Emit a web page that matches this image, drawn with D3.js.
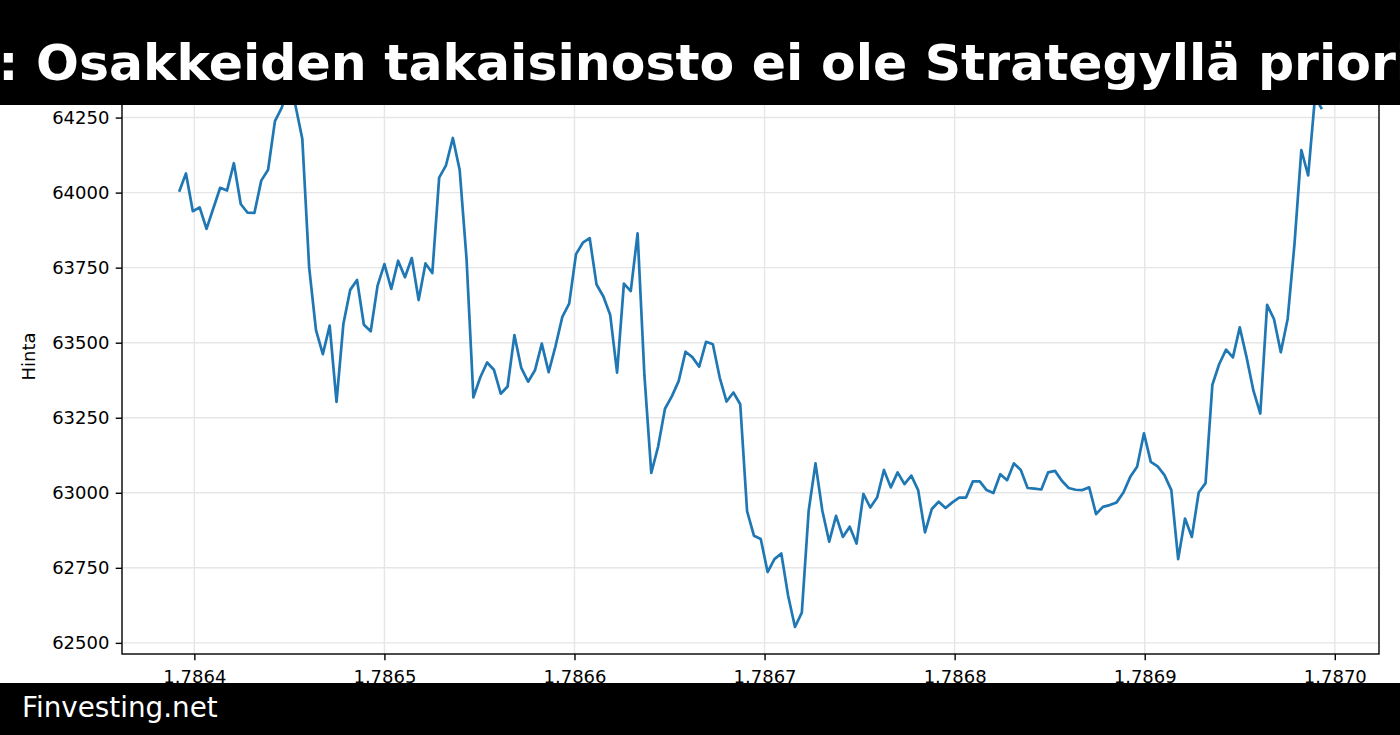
<!DOCTYPE html>
<html>
<head>
<meta charset="utf-8">
<script src="https://cdn.jsdelivr.net/npm/d3@7"></script>
<style>
  html, body { margin: 0; padding: 0; background: #ffffff; }
  svg { display: block; }
  text { font-family: "DejaVu Sans", sans-serif; }
</style>
</head>
<body>
<div id="chart"></div>
<script>
// ---- data ----
const titleText = "Bitcoin: Osakkeiden takaisinosto ei ole Strategyllä prioriteetti";
const footerText = "Finvesting.net";
const yAxisLabel = "Hinta";

// hourly observations (unix seconds)
const startTime = 1786392000;
const stepSeconds = 3600;

const prices = [
  64003, 64064, 63938, 63951, 63879, 63948, 64016, 64007, 64098, 63962,
  63933, 63932, 64040, 64076, 64238, 64283, 64355, 64290, 64179, 63751,
  63542, 63462, 63557, 63303, 63562, 63676, 63709, 63560, 63538, 63690,
  63762, 63679, 63773, 63718, 63782, 63642, 63764, 63732, 64050, 64091,
  64182, 64075, 63780, 63318, 63384, 63434, 63410, 63330, 63354, 63525,
  63416, 63370, 63408, 63497, 63402, 63488, 63586, 63630, 63795, 63833,
  63848, 63694, 63654, 63592, 63400, 63697, 63672, 63864, 63390, 63066,
  63154, 63280, 63321, 63372, 63470, 63452, 63420, 63503, 63495, 63384,
  63304, 63334, 63295, 62939, 62857, 62846, 62736, 62779, 62798, 62657,
  62553, 62601, 62940, 63098, 62940, 62837, 62923, 62853, 62887, 62831,
  62996, 62951, 62984, 63076, 63018, 63068, 63029, 63057, 63009, 62868,
  62946, 62970, 62949, 62968, 62984, 62984, 63038, 63038, 63009, 62999,
  63062, 63042, 63098, 63076, 63016, 63014, 63011, 63068, 63073, 63040,
  63016, 63010, 63009, 63018, 62929, 62953, 62959, 62968, 63001, 63053,
  63087, 63198, 63103, 63088, 63059, 63009, 62779, 62914, 62853, 63001,
  63032, 63360, 63429, 63477, 63451, 63551, 63451, 63340, 63264, 63626,
  63579, 63468, 63579, 63829, 64142, 64057, 64320, 64278
];

const xTickValues = [1786400000, 1786500000, 1786600000, 1786700000, 1786800000, 1786900000, 1787000000];
const xTickLabels = ["1.7864", "1.7865", "1.7866", "1.7867", "1.7868", "1.7869", "1.7870"];
const yTickValues = [62500, 62750, 63000, 63250, 63500, 63750, 64000, 64250];

// ---- layout ----
const W = 1400, H = 735;
const plot = { left: 122, right: 1379, top: 59, bottom: 654 };

const points = prices.map((p, i) => ({ t: startTime + i * stepSeconds, v: p }));

const svg = d3.select("#chart").append("svg")
  .attr("width", W).attr("height", H)
  .attr("viewBox", `0 0 ${W} ${H}`);

svg.append("rect").attr("width", W).attr("height", H).attr("fill", "#ffffff");

function padded(ext) {
  const r = ext[1] - ext[0];
  return [ext[0] - 0.05 * r, ext[1] + 0.05 * r];
}

const x = d3.scaleLinear()
  .domain(padded(d3.extent(points, d => d.t)))
  .range([plot.left, plot.right]);

const y = d3.scaleLinear()
  .domain(padded(d3.extent(points, d => d.v)))
  .range([plot.bottom, plot.top]);

const gridColor = "#e6e6e6";

// grid
const g = svg.append("g");
g.selectAll(".gx").data(xTickValues).enter().append("line")
  .attr("x1", d => x(d)).attr("x2", d => x(d))
  .attr("y1", plot.top).attr("y2", plot.bottom)
  .attr("stroke", gridColor).attr("stroke-width", 1.4);
g.selectAll(".gy").data(yTickValues).enter().append("line")
  .attr("x1", plot.left).attr("x2", plot.right)
  .attr("y1", d => y(d)).attr("y2", d => y(d))
  .attr("stroke", gridColor).attr("stroke-width", 1.4);

// line
const line = d3.line().x(d => x(d.t)).y(d => y(d.v));
svg.append("path").datum(points)
  .attr("d", line)
  .attr("fill", "none")
  .attr("stroke", "#1f77b4")
  .attr("stroke-width", 2.7)
  .attr("stroke-linejoin", "round")
  .attr("stroke-linecap", "butt");

// axes
const xAxis = d3.axisBottom(x)
  .tickValues(xTickValues)
  .tickFormat((d, i) => xTickLabels[i])
  .tickSize(6.3).tickPadding(9.5);
const yAxis = d3.axisLeft(y)
  .tickValues(yTickValues)
  .tickFormat(d3.format("d"))
  .tickSize(6.3).tickPadding(6.3);

const gx = svg.append("g").attr("transform", `translate(0,${plot.bottom})`).call(xAxis);
const gy = svg.append("g").attr("transform", `translate(${plot.left},0)`).call(yAxis);
[gx, gy].forEach(a => {
  a.select(".domain").remove();
  a.selectAll(".tick line").attr("stroke", "#000").attr("stroke-width", 1.4);
  a.selectAll(".tick text").attr("fill", "#000")
    .style("font-family", "DejaVu Sans").style("font-size", "18px");
});

// spines
svg.append("rect")
  .attr("x", plot.left).attr("y", plot.top)
  .attr("width", plot.right - plot.left).attr("height", plot.bottom - plot.top)
  .attr("fill", "none").attr("stroke", "#000").attr("stroke-width", 1.4);

// y label
svg.append("text")
  .attr("transform", `translate(35,${(plot.top + plot.bottom) / 2}) rotate(-90)`)
  .attr("text-anchor", "middle")
  .style("font-size", "18px")
  .attr("fill", "#000")
  .text(yAxisLabel);

// banners
svg.append("rect").attr("x", 0).attr("y", 0).attr("width", W).attr("height", 105).attr("fill", "#000");
svg.append("rect").attr("x", 0).attr("y", 683).attr("width", W).attr("height", H - 683).attr("fill", "#000");

// title: sized so the visible part spans the banner like the reference
const title = svg.append("text")
  .attr("x", 0).attr("y", 80)
  .style("font-size", "58px").style("font-weight", "bold")
  .attr("fill", "#fff")
  .text(titleText);
(function fitTitle() {
  const node = title.node();
  const iO = titleText.indexOf("Osakkeiden");
  const iEnd = titleText.indexOf("prior") + 4;
  const span0 = node.getEndPositionOfChar(iEnd).x - node.getStartPositionOfChar(iO).x;
  const fs = 58 * 1360 / span0;
  title.style("font-size", fs + "px");
  const startO = node.getStartPositionOfChar(iO).x;
  title.attr("x", 36 - startO);
})();

svg.append("text")
  .attr("x", 22).attr("y", 717)
  .style("font-size", "27.8px")
  .attr("fill", "#fff")
  .text(footerText);
</script>
</body>
</html>
